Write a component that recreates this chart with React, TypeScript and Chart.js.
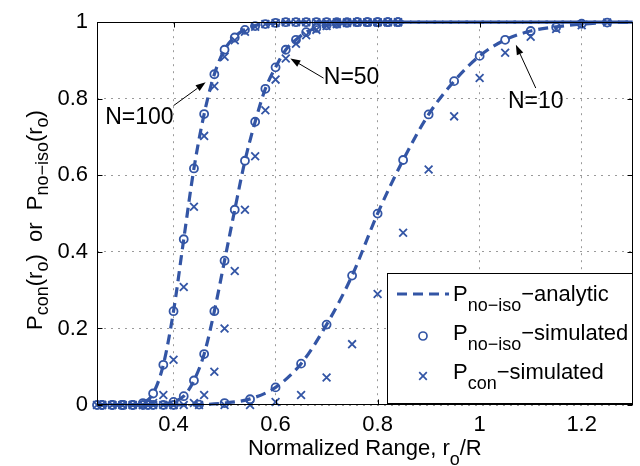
import React, { useEffect, useRef } from "react";
import { Chart, registerables } from "chart.js";

Chart.register(...registerables);

const BLUE = "#3355a5";
const FONT = '"Liberation Sans", Arial, Helvetica, sans-serif';

// Axis ticks
const xTicks = [0.4, 0.6, 0.8, 1.0, 1.2];
const yTicks = [0, 0.2, 0.4, 0.6, 0.8, 1];

// Simulated points, N=100 and N=50 (shared range grid)
const simX = [0.26, 0.28, 0.30, 0.32, 0.34, 0.36, 0.38, 0.40, 0.42, 0.44, 0.46, 0.48, 0.50, 0.52, 0.54, 0.56, 0.58, 0.60, 0.62, 0.64, 0.66, 0.68, 0.70, 0.72, 0.74, 0.76, 0.78, 0.80, 0.82, 0.84];
const n100NoIsoSim = [0, 0, 0, 0, 0.005, 0.03, 0.105, 0.245, 0.433, 0.618, 0.76, 0.864, 0.928, 0.96, 0.98, 0.99, 0.995, 0.998, 1, 1, 1, 1, 1, 1, 1, 1, 1, 1, 1, 1];
const n100ConSim = [0, 0, 0, 0, 0, 0.005, 0.026, 0.118, 0.308, 0.518, 0.703, 0.833, 0.91, 0.953, 0.975, 0.988, 0.995, 0.998, 1, 1, 1, 1, 1, 1, 1, 1, 1, 1, 1, 1];
const n50NoIsoSim = [0, 0, 0, 0, 0, 0, 0, 0.008, 0.023, 0.064, 0.133, 0.245, 0.377, 0.51, 0.638, 0.74, 0.826, 0.882, 0.928, 0.954, 0.974, 0.985, 0.992, 0.996, 0.998, 1, 1, 1, 1, 1];
const n50ConSim = [0, 0, 0, 0, 0, 0, 0, 0, 0, 0.005, 0.026, 0.087, 0.2, 0.35, 0.51, 0.65, 0.77, 0.85, 0.905, 0.944, 0.966, 0.98, 0.99, 0.995, 0.998, 1, 1, 1, 1, 1];

// Simulated points, N=10
const n10X = [0.25, 0.30, 0.35, 0.40, 0.45, 0.50, 0.55, 0.60, 0.65, 0.70, 0.75, 0.80, 0.85, 0.90, 0.95, 1.00, 1.05, 1.10, 1.15, 1.20, 1.25];
const n10NoIsoSim = [0, 0, 0, 0, 0.001, 0.005, 0.015, 0.046, 0.108, 0.21, 0.338, 0.5, 0.64, 0.759, 0.846, 0.912, 0.954, 0.977, 0.987, 0.996, 0.999];
const n10ConSim = [0, 0, 0, 0, 0, 0, 0, 0.008, 0.026, 0.072, 0.159, 0.29, 0.45, 0.615, 0.754, 0.854, 0.92, 0.962, 0.982, 0.992, 0.999];

// Analytic curves
const n100AnX = [0.25, 0.32, 0.34, 0.36, 0.38, 0.40, 0.42, 0.44, 0.46, 0.48, 0.50, 0.52, 0.54, 0.56, 0.58, 0.60, 0.64, 1.30];
const n100AnY = [0, 0, 0.005, 0.03, 0.105, 0.245, 0.433, 0.618, 0.76, 0.864, 0.928, 0.962, 0.981, 0.991, 0.996, 0.998, 1, 1];
const n50AnX = [0.25, 0.36, 0.38, 0.40, 0.42, 0.44, 0.46, 0.48, 0.50, 0.52, 0.54, 0.56, 0.58, 0.60, 0.62, 0.64, 0.66, 0.68, 0.70, 0.72, 0.74, 0.78, 1.30];
const n50AnY = [0, 0, 0.002, 0.008, 0.023, 0.064, 0.133, 0.245, 0.377, 0.51, 0.638, 0.74, 0.826, 0.882, 0.928, 0.954, 0.974, 0.985, 0.992, 0.996, 0.998, 1, 1];
const n10AnX = [0.25, 0.40, 0.45, 0.50, 0.55, 0.60, 0.65, 0.70, 0.75, 0.80, 0.85, 0.90, 0.95, 1.00, 1.05, 1.10, 1.15, 1.20, 1.25, 1.30];
const n10AnY = [0, 0, 0.001, 0.005, 0.016, 0.046, 0.108, 0.21, 0.338, 0.5, 0.64, 0.759, 0.846, 0.912, 0.954, 0.977, 0.988, 0.995, 0.999, 1];

// Curve annotations (data coordinates)
const annotations = [
  { label: "N=100", tx: 0.333, ty: 0.751, x0: 0.40, y0: 0.782, x1: 0.463, y1: 0.843 },
  { label: "N=50", tx: 0.749, ty: 0.854, x0: 0.694, y0: 0.854, x1: 0.629, y1: 0.905 },
  { label: "N=10", tx: 1.11, ty: 0.792, x0: 1.11, y0: 0.828, x1: 1.071, y1: 0.941 },
];

type Seg = { t: string; sub?: boolean };

function drawRich(ctx: CanvasRenderingContext2D, segs: Seg[], x: number, y: number, main: number, sub: number, dy: number) {
  let cx = x;
  for (const s of segs) {
    ctx.font = `${s.sub ? sub : main}px ${FONT}`;
    ctx.fillText(s.t, cx, y + (s.sub ? dy : 0));
    cx += ctx.measureText(s.t).width;
  }
  return cx - x;
}
function richWidth(ctx: CanvasRenderingContext2D, segs: Seg[], main: number, sub: number) {
  let w = 0;
  for (const s of segs) {
    ctx.font = `${s.sub ? sub : main}px ${FONT}`;
    w += ctx.measureText(s.t).width;
  }
  return w;
}

const pts = (xs: number[], ys: number[]) => xs.map((x, i) => ({ x, y: ys[i] }));

const overlay = {
  id: "overlay",
  afterDraw(chart: any) {
    const ctx: CanvasRenderingContext2D = chart.ctx;
    const ca = chart.chartArea;
    const xs = chart.scales.x;
    const ys = chart.scales.y;
    ctx.save();
    ctx.strokeStyle = "#000";
    ctx.fillStyle = "#000";
    ctx.lineWidth = 1;
    ctx.setLineDash([]);
    const L = Math.round(ca.left) + 0.5, R = Math.round(ca.right) - 0.5;
    const T = Math.round(ca.top) + 0.5, B = Math.round(ca.bottom) - 0.5;
    const seg = (a: number, b: number, c: number, d: number) => {
      ctx.beginPath(); ctx.moveTo(a, b); ctx.lineTo(c, d); ctx.stroke();
    };
    // axes box
    ctx.strokeRect(L, T, R - L, B - T);
    // inward ticks
    xTicks.forEach((v) => {
      const p = Math.round(xs.getPixelForValue(v)) + 0.5;
      seg(p, B, p, B - 5); seg(p, T, p, T + 5);
    });
    yTicks.forEach((v) => {
      const p = Math.round(ys.getPixelForValue(v)) + 0.5;
      seg(L, p, L + 5, p); seg(R, p, R - 5, p);
    });

    // annotations
    ctx.font = `23px ${FONT}`;
    ctx.textAlign = "center";
    ctx.textBaseline = "middle";
    annotations.forEach((a) => {
      ctx.fillStyle = "#000";
      ctx.fillText(a.label, xs.getPixelForValue(a.tx), ys.getPixelForValue(a.ty));
      const ax0 = xs.getPixelForValue(a.x0), ay0 = ys.getPixelForValue(a.y0);
      const ax1 = xs.getPixelForValue(a.x1), ay1 = ys.getPixelForValue(a.y1);
      const ang = Math.atan2(ay1 - ay0, ax1 - ax0);
      const hl = 10, hw = 3.5;
      const bx = ax1 - hl * Math.cos(ang), by = ay1 - hl * Math.sin(ang);
      ctx.lineWidth = 1;
      seg(ax0, ay0, bx, by);
      ctx.beginPath();
      ctx.moveTo(ax1, ay1);
      ctx.lineTo(bx + hw * Math.sin(ang), by - hw * Math.cos(ang));
      ctx.lineTo(bx - hw * Math.sin(ang), by + hw * Math.cos(ang));
      ctx.closePath();
      ctx.fill();
    });

    // legend
    ctx.textAlign = "left";
    ctx.textBaseline = "alphabetic";
    const lx0 = 387.5, ly0 = 273.5, lx1 = 632.5, ly1 = 403.5;
    ctx.fillStyle = "#fff";
    ctx.fillRect(lx0, ly0, lx1 - lx0, ly1 - ly0);
    ctx.strokeStyle = "#000";
    ctx.lineWidth = 1;
    ctx.strokeRect(lx0, ly0, lx1 - lx0, ly1 - ly0);
    // entry 1 line sample
    ctx.strokeStyle = BLUE;
    ctx.lineWidth = 3.2;
    ctx.setLineDash([10, 6]);
    seg(397, 294, 449, 294);
    ctx.setLineDash([]);
    // entry 2 circle
    ctx.lineWidth = 1.7;
    ctx.beginPath(); ctx.arc(423, 336, 4, 0, Math.PI * 2); ctx.stroke();
    // entry 3 cross
    const cr = 3.8;
    seg(423 - cr, 376 - cr, 423 + cr, 376 + cr);
    seg(423 - cr, 376 + cr, 423 + cr, 376 - cr);
    ctx.fillStyle = "#000";
    drawRich(ctx, [{ t: "P" }, { t: "no\u2212iso", sub: true }, { t: "\u2212analytic" }], 453, 301, 22, 18, 10);
    drawRich(ctx, [{ t: "P" }, { t: "no\u2212iso", sub: true }, { t: "\u2212simulated" }], 453, 340, 22, 18, 10);
    drawRich(ctx, [{ t: "P" }, { t: "con", sub: true }, { t: "\u2212simulated" }], 453, 379, 22, 18, 10);

    // x axis title
    const xt: Seg[] = [{ t: "Normalized Range, r" }, { t: "o", sub: true }, { t: "/R" }];
    const xw = richWidth(ctx, xt, 22, 18);
    drawRich(ctx, xt, (ca.left + ca.right) / 2 - xw / 2, 455, 22, 18, 10);

    // y axis title
    const yt: Seg[] = [
      { t: "P" }, { t: "con", sub: true }, { t: "(r" }, { t: "o", sub: true },
      { t: ")  or  P" }, { t: "no\u2212iso", sub: true }, { t: "(r" }, { t: "o", sub: true }, { t: ")" },
    ];
    const yw = richWidth(ctx, yt, 22, 18);
    ctx.translate(42, 220);
    ctx.rotate(-Math.PI / 2);
    drawRich(ctx, yt, -yw / 2, 0, 22, 18, 6);
    ctx.restore();
  },
};

export default function App() {
  const ref = useRef<HTMLCanvasElement>(null);
  useEffect(() => {
    const lineDs = (xs: number[], ys: number[]) => ({
      data: pts(xs, ys),
      showLine: true,
      borderColor: BLUE,
      borderWidth: 3.2,
      borderDash: [10, 6],
      pointRadius: 0,
      cubicInterpolationMode: "monotone" as const,
      clip: false as const,
    });
    const circDs = (xs: number[], ys: number[]) => ({
      data: pts(xs, ys),
      showLine: false,
      pointStyle: "circle" as const,
      pointRadius: 4,
      pointBorderWidth: 1.8,
      pointBorderColor: BLUE,
      pointBackgroundColor: "rgba(0,0,0,0)",
      clip: false as const,
    });
    const crossDs = (xs: number[], ys: number[]) => ({
      data: pts(xs, ys),
      showLine: false,
      pointStyle: "crossRot" as const,
      pointRadius: 5.5,
      pointBorderWidth: 1.8,
      pointBorderColor: BLUE,
      pointBackgroundColor: BLUE,
      clip: false as const,
    });
    const tickFont = { family: FONT, size: 22 };
    const chart = new Chart(ref.current as HTMLCanvasElement, {
      type: "scatter",
      data: {
        datasets: [
          lineDs(n100AnX, n100AnY),
          lineDs(n50AnX, n50AnY),
          lineDs(n10AnX, n10AnY),
          circDs(simX, n100NoIsoSim),
          circDs(simX, n50NoIsoSim),
          circDs(n10X, n10NoIsoSim),
          crossDs(simX, n100ConSim),
          crossDs(simX, n50ConSim),
          crossDs(n10X, n10ConSim),
        ] as any,
      },
      options: {
        animation: false,
        responsive: false,
        layout: { padding: { left: 0, right: 6, top: 15, bottom: 0 } },
        plugins: { legend: { display: false }, tooltip: { enabled: false } },
        scales: {
          x: {
            type: "linear",
            min: 0.25,
            max: 1.3,
            afterBuildTicks: (s: any) => { s.ticks = xTicks.map((v) => ({ value: v })); },
            afterFit: (s: any) => { s.height = 61; },
            ticks: {
              font: tickFont, color: "#000", padding: 7, maxRotation: 0, minRotation: 0, autoSkip: false,
              callback: (v: any) => String(Number(Number(v).toFixed(1))),
            },
            grid: { color: "#9a9a9a", lineWidth: 1, drawTicks: false },
            border: { display: false, dash: [2, 5] },
          },
          y: {
            type: "linear",
            min: 0,
            max: 1,
            afterBuildTicks: (s: any) => { s.ticks = yTicks.map((v) => ({ value: v })); },
            afterFit: (s: any) => { s.width = 97; },
            ticks: {
              font: tickFont, color: "#000", padding: 9, autoSkip: false,
              callback: (v: any) => String(Number(Number(v).toFixed(1))),
            },
            grid: { color: "#9a9a9a", lineWidth: 1, drawTicks: false },
            border: { display: false, dash: [2, 5] },
          },
        },
      },
      plugins: [overlay],
    });
    return () => chart.destroy();
  }, []);
  return (
    <div style={{ position: "fixed", left: 0, top: 0, width: 640, height: 466, background: "#fff" }}>
      <canvas ref={ref} width={640} height={466} style={{ display: "block" }} />
    </div>
  );
}
